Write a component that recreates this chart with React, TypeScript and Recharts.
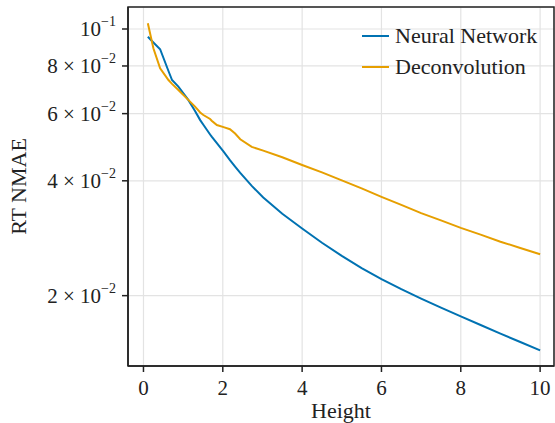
import {
  CartesianGrid,
  Label,
  Line,
  LineChart,
  ReferenceArea,
  XAxis,
  YAxis,
} from "recharts";

const heights = [
  0.11, 0.25, 0.42, 0.63, 0.72, 0.88, 1.13, 1.3, 1.43, 1.51, 1.68, 1.72, 1.85, 2.02,
  2.18, 2.31, 2.44, 2.73, 3.02, 3.5, 4, 4.5, 5, 5.5, 6, 6.5, 7, 7.5, 8, 8.5, 9, 9.5, 10,
];
const neuralNetwork = [
  0.0954, 0.0922, 0.0885, 0.0776, 0.0735, 0.0706, 0.0652, 0.061, 0.0577, 0.0561, 0.0529,
  0.0522, 0.0502, 0.0477, 0.0453, 0.04356, 0.04195, 0.03878, 0.03616, 0.03279, 0.03,
  0.02752, 0.02542, 0.02363, 0.02211, 0.0208, 0.01964, 0.0186, 0.01765, 0.01675, 0.0159,
  0.01512, 0.01437,
];
const deconvolution = [
  0.1035, 0.089, 0.0789, 0.0735, 0.0718, 0.0692, 0.0652, 0.0626, 0.0604, 0.0595, 0.0581,
  0.0575, 0.056, 0.0553, 0.0546, 0.0532, 0.0514, 0.0491, 0.048, 0.0461, 0.044, 0.0421,
  0.0401, 0.0382, 0.0363, 0.0346, 0.0329, 0.0315, 0.0301, 0.0289, 0.0277, 0.02667, 0.02567,
];
const xTicks = [0, 2, 4, 6, 8, 10];
const yTicks = [0.02, 0.04, 0.06, 0.08, 0.1];
const xDomain = [-0.39, 10.35];
const yDomain = [0.01308, 0.1142];

const data = heights.map((h, i) => ({
  height: h,
  nn: neuralNetwork[i],
  deconv: deconvolution[i],
}));

const FONT = "'Liberation Serif', 'Times New Roman', serif";
const BLUE = "#0072b2";
const ORANGE = "#e69f00";

const legendRows = [
  { name: "Neural Network", color: BLUE },
  { name: "Deconvolution", color: ORANGE },
];

function YTick({ x, y, payload }: any) {
  const v: number = payload.value;
  const exp = Math.floor(Math.log10(v) + 1e-9);
  const mant = Math.round(v / Math.pow(10, exp));
  return (
    <text x={x - 4} y={y + 7} textAnchor="end" fontFamily={FONT} fontSize={21} fill="#222">
      {mant === 1 ? "10" : `${mant} × 10`}
      <tspan dy={-10} fontSize={14}>{`−${-exp}`}</tspan>
    </text>
  );
}

function LegendBox() {
  return (
    <div
      style={{
        position: "absolute",
        left: 362,
        top: 20,
        fontFamily: FONT,
        fontSize: 22,
        color: "#222",
      }}
    >
      {legendRows.map((r) => (
        <div key={r.name} style={{ display: "flex", alignItems: "center", height: 31 }}>
          <svg width={33} height={10}>
            <line x1={0} y1={5} x2={27} y2={5} stroke={r.color} strokeWidth={2} />
          </svg>
          <span>{r.name}</span>
        </div>
      ))}
    </div>
  );
}

export default function App() {
  return (
    <div style={{ position: "absolute", left: 0, top: 0, width: 555, height: 423, background: "#fff" }}>
      <LineChart
        width={555}
        height={423}
        data={data}
        margin={{ top: 7, right: 1, left: 0, bottom: 0 }}
      >
        <CartesianGrid stroke="#e3e3e3" strokeWidth={1.2} />
        <XAxis
          dataKey="height"
          type="number"
          domain={xDomain}
          ticks={xTicks}
          height={57}
          allowDataOverflow
          stroke="#222"
          strokeWidth={1.5}
          tickSize={6}
          tick={{ fontFamily: FONT, fontSize: 21, fill: "#222", dy: 6 }}
        >
          <Label
            value="Height"
            position="insideBottom"
            offset={5}
            style={{ fontFamily: FONT, fontSize: 22, fill: "#222" }}
          />
        </XAxis>
        <YAxis
          type="number"
          scale="log"
          domain={yDomain}
          ticks={yTicks}
          width={128}
          allowDataOverflow
          stroke="#222"
          strokeWidth={1.5}
          tickSize={6}
          tick={<YTick />}
        >
          <Label
            value="RT NMAE"
            angle={-90}
            position="insideLeft"
            offset={18}
            style={{ fontFamily: FONT, fontSize: 22, fill: "#222", textAnchor: "middle" }}
          />
        </YAxis>
        <ReferenceArea
          x1={xDomain[0]}
          x2={xDomain[1]}
          y1={yDomain[0]}
          y2={yDomain[1]}
          fill="none"
          stroke="#222"
          strokeWidth={1.5}
          ifOverflow="visible"
        />
        <Line
          dataKey="nn"
          stroke={BLUE}
          strokeWidth={2}
          dot={false}
          isAnimationActive={false}
        />
        <Line
          dataKey="deconv"
          stroke={ORANGE}
          strokeWidth={2}
          dot={false}
          isAnimationActive={false}
        />
      </LineChart>
      <LegendBox />
    </div>
  );
}
